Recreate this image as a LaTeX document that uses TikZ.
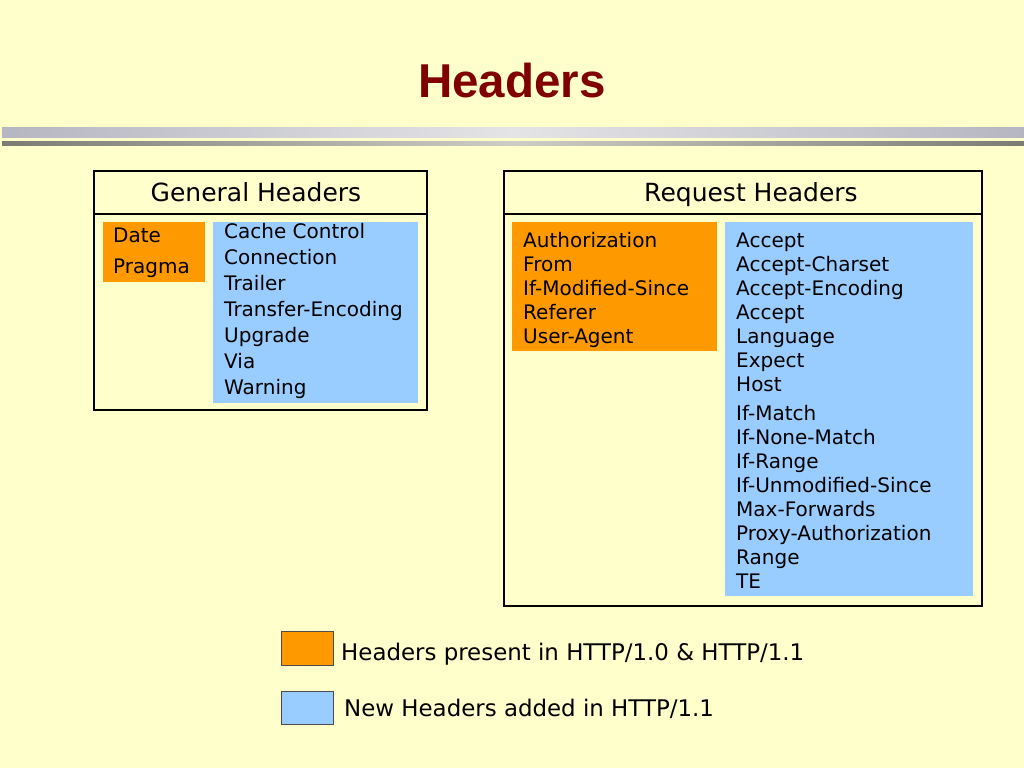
\documentclass[tikz,border=0pt]{standalone}
\usepackage{fontspec}
\setmainfont{DejaVu Sans}
\newfontfamily\titlefont{Liberation Sans}
\definecolor{slidebg}{HTML}{FFFFCC}
\definecolor{oldhdr}{HTML}{FF9900}
\definecolor{newhdr}{HTML}{99CCFF}
\definecolor{titlered}{HTML}{800000}
\definecolor{ruleend}{HTML}{B6B6C2}
\definecolor{rulemid}{HTML}{E4E4E6}
\definecolor{barend}{HTML}{7C7C74}
\definecolor{barmid}{HTML}{CDCDC6}
\begin{document}
\begin{tikzpicture}[x=1pt,y=-1pt,
  item/.style={anchor=base west,inner sep=0pt,font=\fontsize{20}{24}\selectfont},
  heading/.style={anchor=base,inner sep=0pt,font=\fontsize{25}{29}\selectfont},
  legend/.style={anchor=base west,inner sep=0pt,font=\fontsize{22.9}{26}\selectfont},
  group/.style={draw=black,line width=2pt}]
\fill[slidebg] (0,0) rectangle (1024,768);
\useasboundingbox (0,0) rectangle (1024,768);

% title and rules
\node[anchor=base,inner sep=0pt,text=titlered,font=\titlefont\fontsize{47.5}{52}\selectfont\bfseries] (title) at (512,97) {Headers};
\shade[left color=ruleend, right color=ruleend, middle color=rulemid] (2,127) rectangle (1024,137);
\shade[left color=barend, right color=barend, middle color=barmid] (2,141) rectangle (1024,145);

% general headers
\fill[oldhdr] (103,222) rectangle (205,282);
\fill[newhdr] (213,222) rectangle (418,403);
\draw[group] (94,171) rectangle (427,410);
\draw[group] (94,214) -- (427,214);
\node[heading] (genhead) at (256,201) {General Headers};
\foreach \txt [count=\i] in {Date,Pragma}
  \node[item] (genold\i) at (113,{211+31*\i}) {\txt};
\foreach \txt [count=\i] in {Cache Control,Connection,Trailer,Transfer-Encoding,Upgrade,Via,Warning}
  \node[item] (gennew\i) at (224,{212+26*\i}) {\txt};

% request headers
\fill[oldhdr] (512,222) rectangle (717,351);
\fill[newhdr] (725,222) rectangle (973,596);
\draw[group] (504,171) rectangle (982,606);
\draw[group] (504,214) -- (982,214);
\node[heading] (reqhead) at (751,201) {Request Headers};
\foreach \txt [count=\i] in {Authorization,From,If-Modified-Since,Referer,User-Agent}
  \node[item] (reqold\i) at (523,{223+24*\i}) {\txt};
\foreach \txt [count=\i] in {Accept,Accept-Charset,Accept-Encoding,Accept,Language,Expect,Host}
  \node[item] (reqnew\i) at (736,{223+24*\i}) {\txt};
\foreach \txt [count=\i] in {If-Match,If-None-Match,If-Range,If-Unmodified-Since,Max-Forwards,Proxy-Authorization,Range,TE}
  \node[item] (reqif\i) at (736,{396+24*\i}) {\txt};

% legend
\draw[fill=oldhdr,draw=black!70,line width=1pt] (281,631) rectangle (333,665);
\node[legend] (oldtext) at (341,660) {Headers present in HTTP/1.0 \& HTTP/1.1};
\draw[fill=newhdr,draw=black!70,line width=1pt] (281,691) rectangle (333,724);
\node[legend] (newtext) at (344,716) {New Headers added in HTTP/1.1};
\end{tikzpicture}
\end{document}
